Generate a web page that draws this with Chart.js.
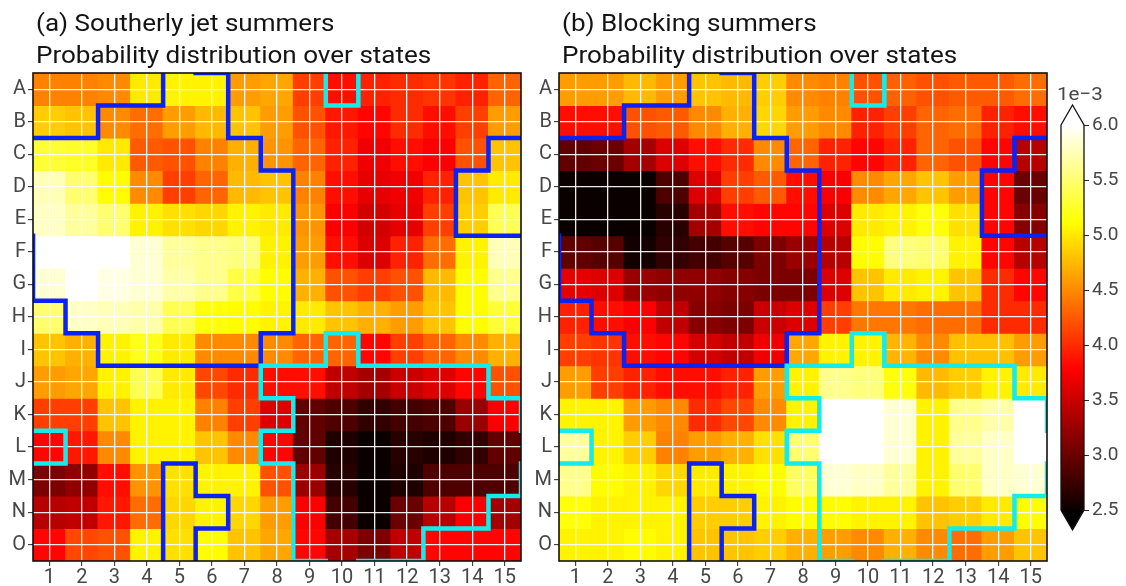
<!DOCTYPE html>
<html>
<head>
<meta charset="utf-8">
<script src="https://cdn.jsdelivr.net/npm/chart.js@4.4.1/dist/chart.umd.min.js"></script>
<style>
  html, body { margin: 0; padding: 0; background: #ffffff; }
  #stage { position: relative; width: 1126px; height: 586px; overflow: hidden; background: #ffffff; }
  #stage canvas { position: absolute; top: 0; }
</style>
</head>
<body>
<div id="stage">
  <canvas id="panelA" width="540" height="586" style="left:0px"></canvas>
  <canvas id="panelB" width="540" height="586" style="left:525px"></canvas>
  <canvas id="colourbar" width="86" height="586" style="left:1040px"></canvas>
</div>
<script>
// SOM node labels
const colLabels = ['1','2','3','4','5','6','7','8','9','10','11','12','13','14','15'];
const rowLabels = ['A','B','C','D','E','F','G','H','I','J','K','L','M','N','O'];

// Probability of each state (units of 1e-3), rows A..O, columns 1..15
const jetValues = [
  [4.45, 4.45, 4.50, 5.00, 5.05, 5.05, 4.60, 4.65, 4.10, 3.85, 3.95, 4.00, 4.05, 3.95, 4.30],
  [4.85, 4.80, 4.50, 4.35, 4.60, 4.75, 4.80, 4.60, 4.20, 3.90, 3.80, 4.00, 3.85, 4.10, 4.60],
  [5.30, 5.25, 5.00, 4.25, 4.20, 4.45, 4.70, 4.55, 4.30, 3.95, 3.70, 3.85, 3.75, 4.20, 4.80],
  [5.75, 5.50, 5.10, 4.50, 4.10, 4.30, 4.75, 4.80, 4.45, 3.85, 3.65, 3.70, 3.95, 4.80, 5.00],
  [5.80, 5.65, 5.50, 5.05, 4.95, 4.90, 5.05, 5.00, 4.55, 3.75, 3.55, 3.65, 4.10, 4.85, 5.40],
  [6.10, 6.10, 6.05, 5.85, 5.65, 5.60, 5.55, 5.05, 4.60, 3.85, 3.60, 3.95, 4.35, 5.05, 5.75],
  [5.85, 6.10, 5.90, 5.85, 5.70, 5.60, 5.35, 5.10, 4.70, 4.20, 4.10, 4.20, 4.75, 5.10, 5.60],
  [5.50, 5.80, 5.75, 5.70, 5.40, 5.15, 5.10, 5.05, 5.00, 4.80, 4.70, 4.60, 4.80, 5.10, 5.30],
  [4.80, 4.70, 5.05, 5.20, 5.00, 4.50, 4.50, 4.50, 4.30, 4.30, 3.80, 4.10, 4.30, 4.50, 4.70],
  [4.60, 4.65, 5.05, 5.40, 5.00, 4.15, 4.00, 3.85, 3.85, 3.45, 3.30, 3.50, 3.60, 3.80, 4.20],
  [4.10, 4.10, 4.80, 5.05, 5.05, 4.45, 4.10, 3.60, 2.95, 2.85, 2.70, 2.80, 2.85, 3.25, 3.75],
  [3.80, 3.90, 4.50, 5.05, 5.05, 4.80, 4.50, 3.80, 2.95, 2.60, 2.50, 2.65, 2.60, 2.70, 2.95],
  [3.10, 3.20, 3.85, 4.55, 4.95, 5.05, 5.05, 4.20, 3.25, 2.65, 2.45, 2.60, 2.85, 2.85, 2.85],
  [3.40, 3.45, 3.90, 4.35, 4.90, 5.05, 4.90, 4.60, 3.75, 2.80, 2.45, 3.00, 3.40, 3.75, 3.30],
  [3.80, 4.15, 4.20, 5.05, 4.95, 5.10, 4.80, 4.65, 3.80, 3.30, 3.10, 3.45, 3.80, 3.80, 3.80]
];

const blockValues = [
  [4.60, 4.60, 4.75, 4.60, 4.80, 4.75, 4.85, 4.50, 4.45, 4.20, 4.28, 4.20, 4.25, 4.25, 4.35],
  [3.85, 3.85, 4.20, 4.25, 4.50, 4.70, 4.90, 4.60, 4.50, 3.95, 4.10, 4.30, 4.35, 3.95, 3.85],
  [2.95, 3.00, 3.30, 3.60, 3.85, 4.00, 4.50, 4.30, 3.95, 3.80, 3.95, 4.30, 4.20, 3.80, 3.40],
  [2.40, 2.40, 2.45, 2.85, 3.60, 4.10, 4.25, 3.85, 3.75, 4.50, 4.65, 4.80, 4.60, 3.80, 3.00],
  [2.40, 2.40, 2.50, 2.65, 3.30, 3.85, 3.80, 3.80, 3.60, 5.00, 5.05, 5.15, 4.95, 3.80, 3.15],
  [2.95, 2.90, 2.55, 2.70, 2.80, 2.90, 3.10, 3.25, 3.40, 5.10, 5.55, 5.50, 5.05, 3.80, 3.40],
  [3.65, 3.60, 3.25, 3.20, 3.20, 3.15, 3.10, 3.10, 3.60, 4.80, 5.00, 5.05, 4.80, 4.00, 3.80],
  [3.95, 3.85, 3.75, 3.45, 3.15, 3.10, 3.50, 3.60, 4.10, 4.40, 4.40, 4.35, 4.35, 4.00, 4.00],
  [4.10, 4.05, 3.85, 3.80, 3.55, 3.45, 3.70, 4.65, 5.05, 5.05, 4.72, 4.50, 4.78, 4.78, 4.60],
  [4.60, 4.10, 3.95, 3.85, 3.85, 3.95, 4.60, 5.05, 5.60, 5.55, 5.15, 4.75, 4.85, 5.05, 5.00],
  [5.05, 5.05, 4.60, 4.50, 4.00, 4.15, 4.50, 5.05, 6.05, 6.05, 5.85, 5.05, 5.60, 5.70, 6.05],
  [5.65, 5.05, 4.85, 4.45, 4.60, 4.70, 4.95, 5.50, 6.05, 6.05, 5.85, 5.05, 5.65, 5.80, 6.05],
  [5.60, 5.10, 5.05, 4.90, 5.00, 5.05, 5.10, 5.45, 5.85, 5.80, 5.65, 5.05, 5.50, 5.80, 5.85],
  [5.15, 5.05, 5.05, 5.05, 4.85, 4.85, 5.05, 5.10, 5.10, 5.05, 5.05, 4.80, 4.85, 5.00, 5.10],
  [5.05, 5.05, 5.10, 5.05, 4.80, 4.80, 4.85, 4.70, 4.60, 4.50, 4.70, 4.50, 4.35, 4.60, 4.80]
];

// Highlighted state groups: 'b' = blue outline, 'c' = cyan outline (the SOM grid wraps around)
const regionMask = [
  '....bb...c.....',
  '..bbbb.........',
  'bbbbbbb.......b',
  'bbbbbbbb.....bb',
  'bbbbbbbb.....bb',
  'bbbbbbbb.......',
  'bbbbbbbb.......',
  '.bbbbbbb.......',
  '..bbbbb..c.....',
  '.......ccccccc.',
  '........ccccccc',
  'c......cccccccc',
  '....b...ccccccc',
  '....bb..cccccc.',
  '....b...cccc...'
];
const regionColours = { b: '#0b22f2', c: '#12ecec' };

const colourbarTicks = [2.5, 3.0, 3.5, 4.0, 4.5, 5.0, 5.5, 6.0];
const vmin = 2.5, vmax = 6.0;

// matplotlib "hot" colour map
function hotColour(v) {
  let t = (v - vmin) / (vmax - vmin);
  t = Math.min(1, Math.max(0, t));
  const r = t < 0.365079 ? 0.0416 + (1 - 0.0416) * t / 0.365079 : 1;
  const g = t < 0.365079 ? 0 : (t < 0.746032 ? (t - 0.365079) / (0.746032 - 0.365079) : 1);
  const b = t < 0.746032 ? 0 : (t - 0.746032) / (1 - 0.746032);
  return 'rgb(' + Math.round(r * 255) + ',' + Math.round(g * 255) + ',' + Math.round(b * 255) + ')';
}

const labelFont = { family: 'Roboto', size: 20 };
const labelColour = '#474747';
const textStretch = 1.085;   // the figure's lettering is slightly wide

const panelTitle = {
  id: 'panelTitle',
  afterDraw(chart, args, opts) {
    const { ctx, chartArea } = chart;
    ctx.save();
    ctx.fillStyle = '#141414';
    ctx.font = '24px Roboto';
    ctx.textAlign = 'left';
    ctx.textBaseline = 'alphabetic';
    ctx.translate(chartArea.left + 3, 0);
    ctx.scale(textStretch, 1);
    opts.lines.forEach((line, k) => ctx.fillText(line, 0, 31 + k * 32));
    ctx.restore();
  }
};

const regionOutline = {
  id: 'regionOutline',
  afterDraw(chart) {
    const { ctx, chartArea: a, scales: { x, y } } = chart;
    const n = regionMask.length, m = regionMask[0].length;
    const xl = j => x.getPixelForValue(j - 0.5);
    const xr = j => x.getPixelForValue(j + 0.5);
    const yt = i => y.getPixelForValue(i + 0.5);
    const yb = i => y.getPixelForValue(i + 1.5);
    ctx.save();
    ctx.beginPath();
    ctx.rect(a.left, a.top, a.right - a.left, a.bottom - a.top);
    ctx.clip();
    ctx.lineWidth = 4.5;
    ctx.lineCap = 'square';
    Object.keys(regionColours).forEach(key => {
      ctx.beginPath();
      for (let i = 0; i < n; i++) {
        for (let j = 0; j < m; j++) {
          if (regionMask[i][j] !== key) continue;
          if (regionMask[(i - 1 + n) % n][j] !== key) { ctx.moveTo(xl(j), yt(i)); ctx.lineTo(xr(j), yt(i)); }
          if (regionMask[(i + 1) % n][j] !== key) { ctx.moveTo(xl(j), yb(i)); ctx.lineTo(xr(j), yb(i)); }
          if (regionMask[i][(j - 1 + m) % m] !== key) { ctx.moveTo(xl(j), yt(i)); ctx.lineTo(xl(j), yb(i)); }
          if (regionMask[i][(j + 1) % m] !== key) { ctx.moveTo(xr(j), yt(i)); ctx.lineTo(xr(j), yb(i)); }
        }
      }
      ctx.strokeStyle = regionColours[key];
      ctx.stroke();
    });
    ctx.restore();
    // axes frame
    ctx.save();
    ctx.strokeStyle = '#111111';
    ctx.lineWidth = 1.6;
    ctx.strokeRect(a.left, a.top, a.right - a.left, a.bottom - a.top);
    ctx.restore();
  }
};

function heatmapConfig(values, title, yWidth, padRight) {
  const gridStyle = {
    offset: false,
    color: 'rgba(255,255,255,0.92)',
    lineWidth: 1.3,
    z: 1,
    drawTicks: true,
    tickLength: 5,
    tickColor: '#262626',
    tickWidth: 1
  };
  return {
    type: 'bar',
    data: {
      labels: colLabels,
      datasets: rowLabels.map((r, i) => ({
        label: r,
        data: values[i].map(() => [i + 0.5, i + 1.5]),
        backgroundColor: values[i].map(hotColour),
        borderWidth: 0,
        inflateAmount: 0.5,
        barPercentage: 1,
        categoryPercentage: 1,
        grouped: false
      }))
    },
    options: {
      responsive: false,
      animation: false,
      events: [],
      layout: { padding: { top: 73, right: padRight, left: 0, bottom: 0 } },
      plugins: {
        legend: { display: false },
        tooltip: { enabled: false },
        panelTitle: { lines: title }
      },
      scales: {
        x: {
          type: 'category',
          offset: true,
          grid: gridStyle,
          border: { display: false },
          ticks: { color: labelColour, font: labelFont, padding: 0, maxRotation: 0, autoSkip: false },
          afterFit(s) { s.height = 25; }
        },
        y: {
          type: 'linear',
          min: 0.5,
          max: 15.5,
          reverse: true,
          afterBuildTicks(s) { s.ticks = rowLabels.map((_, i) => ({ value: i + 1 })); },
          grid: gridStyle,
          border: { display: false },
          ticks: {
            color: labelColour, font: labelFont, padding: 2,
            callback: v => rowLabels[Math.round(v) - 1]
          },
          afterFit(s) { s.width = yWidth; }
        }
      }
    },
    plugins: [panelTitle, regionOutline]
  };
}

new Chart(document.getElementById('panelA'),
  heatmapConfig(jetValues, ['(a) Southerly jet summers', 'Probability distribution over states'], 33, 19));
new Chart(document.getElementById('panelB'),
  heatmapConfig(blockValues, ['(b) Blocking summers', 'Probability distribution over states'], 34, 18));

// colour bar with extension triangles
const colourbarExtras = {
  id: 'colourbarExtras',
  afterDraw(chart) {
    const { ctx, chartArea: a } = chart;
    const cx = (a.left + a.right) / 2;
    const tip = 20;
    ctx.save();
    ctx.beginPath();
    ctx.moveTo(a.left, a.top); ctx.lineTo(cx, a.top - tip); ctx.lineTo(a.right, a.top); ctx.closePath();
    ctx.fillStyle = hotColour(vmax + 1);
    ctx.fill();
    ctx.beginPath();
    ctx.moveTo(a.left, a.bottom); ctx.lineTo(cx, a.bottom + tip); ctx.lineTo(a.right, a.bottom); ctx.closePath();
    ctx.fillStyle = '#000000';
    ctx.fill();
    ctx.beginPath();
    ctx.moveTo(a.left, a.top); ctx.lineTo(cx, a.top - tip); ctx.lineTo(a.right, a.top);
    ctx.lineTo(a.right, a.bottom); ctx.lineTo(cx, a.bottom + tip); ctx.lineTo(a.left, a.bottom);
    ctx.closePath();
    ctx.strokeStyle = '#111111';
    ctx.lineWidth = 1.3;
    ctx.lineJoin = 'miter';
    ctx.stroke();
    ctx.fillStyle = labelColour;
    ctx.font = '19px Roboto';
    ctx.textAlign = 'left';
    ctx.textBaseline = 'alphabetic';
    ctx.translate(17, 0);
    ctx.scale(textStretch, 1);
    ctx.fillText('1e\u22123', 0, 100);
    ctx.restore();
  }
};

new Chart(document.getElementById('colourbar'), {
  type: 'bar',
  data: {
    labels: ['p'],
    datasets: [{
      data: [[vmin, vmax]],
      backgroundColor(c) {
        const chart = c.chart;
        const y = chart.scales.y;
        if (!chart.chartArea || !y) return hotColour(vmin);
        const g = chart.ctx.createLinearGradient(0, y.getPixelForValue(vmin), 0, y.getPixelForValue(vmax));
        for (let k = 0; k <= 70; k++) g.addColorStop(k / 70, hotColour(vmin + (vmax - vmin) * k / 70));
        return g;
      },
      borderWidth: 0,
      barPercentage: 1,
      categoryPercentage: 1
    }]
  },
  options: {
    responsive: false,
    animation: false,
    events: [],
    layout: { padding: { left: 21, top: 125, bottom: 76, right: 0 } },
    plugins: { legend: { display: false }, tooltip: { enabled: false } },
    scales: {
      x: { display: false },
      y: {
        position: 'right',
        min: vmin,
        max: vmax,
        afterBuildTicks(s) { s.ticks = colourbarTicks.map(v => ({ value: v })); },
        grid: { drawOnChartArea: false, drawTicks: true, tickLength: 5, tickColor: '#262626', color: '#262626', lineWidth: 1 },
        border: { display: false },
        ticks: { color: labelColour, font: { family: 'Roboto', size: 19 }, padding: 3, callback: v => v.toFixed(1) },
        afterFit(s) { s.width = 42; }
      }
    }
  },
  plugins: [colourbarExtras]
});
</script>
</body>
</html>
